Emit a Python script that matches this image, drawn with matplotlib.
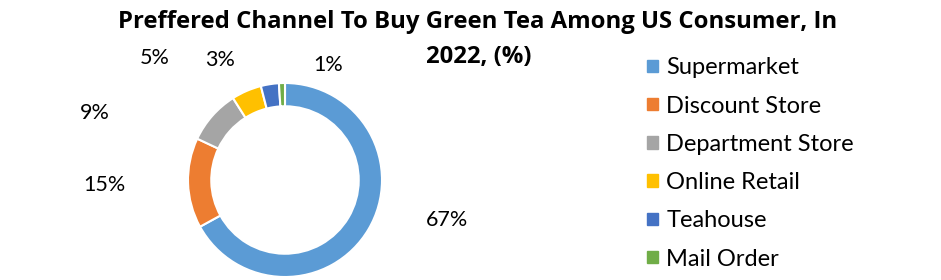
import matplotlib.pyplot as plt
from matplotlib.patches import Patch

channels = ['Supermarket', 'Discount Store', 'Department Store',
            'Online Retail', 'Teahouse', 'Mail Order']
shares = [67, 15, 9, 5, 3, 1]
colors = ['#5B9BD5', '#ED7D31', '#A5A5A5', '#FFC000', '#4472C4', '#70AD47']

# label spots (in units of radius), roughly where excel put them
label_xy = [(1.67, -0.41), (-1.86, -0.05), (-1.96, 0.69),
            (-1.34, 1.26), (-0.67, 1.24), (0.44, 1.19)]

fig = plt.figure(figsize=(9.41, 2.8), dpi=100)
ax = fig.add_axes([188 / 941, 3 / 280, 194 / 941, 194 / 280])

ax.pie(shares, colors=colors, startangle=90, counterclock=False, radius=1,
       wedgeprops=dict(width=0.24, edgecolor='white', linewidth=1.5))
ax.set_xlim(-1, 1)
ax.set_ylim(-1, 1)
ax.set_aspect('equal')

for val, (lx, ly) in zip(shares, label_xy):
    ax.text(lx, ly, f'{val}%', ha='center', va='center', fontsize=15.5,
            family='Lato', clip_on=False)

# title in two pieces, like the wrapped excel title
fig.text(0.508, 0.921, 'Preffered Channel To Buy Green Tea Among US Consumer, In',
         ha='center', va='center', fontsize=17.2, fontweight='bold', family='Open Sans')
fig.text(0.509, 0.796, '2022, (%)',
         ha='center', va='center', fontsize=17.2, fontweight='bold', family='Open Sans')

handles = [Patch(color=c) for c in colors]
fig.legend(handles, channels, loc='upper left', bbox_to_anchor=(0.678, 0.829),
           frameon=False, prop={'family': 'Lato', 'size': 17},
           handlelength=0.45, handleheight=0.45, handletextpad=0.35,
           labelspacing=0.73, borderaxespad=0)

fig.savefig('out.png', dpi=100)
